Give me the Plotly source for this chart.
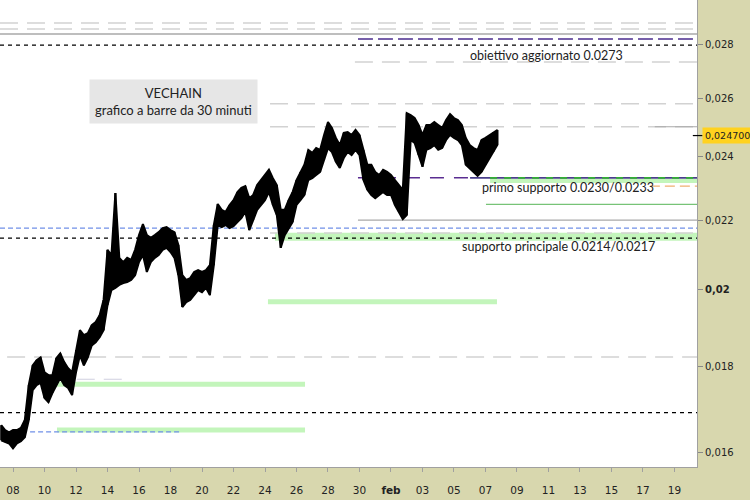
import numpy as np
import pandas as pd
import plotly.graph_objects as go

# ---- price data: 6-hour high/low ranges ----
bar_times = pd.date_range("2021-01-07 06:00", periods=127, freq="6h")
highs = [
    0.01661, 0.01650, 0.01645, 0.01650, 0.01650, 0.01655, 0.01673, 0.01755, 0.01803, 0.01816,
    0.01823, 0.01786, 0.01779, 0.01779, 0.01821, 0.01833, 0.01811, 0.01796, 0.01786, 0.01841,
    0.01892, 0.01879, 0.01884, 0.01905, 0.01913, 0.01931, 0.01972, 0.02112, 0.02097, 0.02283,
    0.02089, 0.02077, 0.02089, 0.02083, 0.02112, 0.02155, 0.02188, 0.02155, 0.02147, 0.02155,
    0.02164, 0.02176, 0.02179, 0.02170, 0.02164, 0.02126, 0.02040, 0.02027, 0.02032, 0.02049,
    0.02054, 0.02049, 0.02054, 0.02068, 0.02185, 0.02249, 0.02231, 0.02225, 0.02246, 0.02261,
    0.02286, 0.02299, 0.02305, 0.02267, 0.02277, 0.02308, 0.02324, 0.02340, 0.02357, 0.02330,
    0.02308, 0.02231, 0.02231, 0.02261, 0.02286, 0.02324, 0.02350, 0.02373, 0.02422, 0.02412,
    0.02428, 0.02422, 0.02472, 0.02516, 0.02496, 0.02462, 0.02438, 0.02479, 0.02482, 0.02472,
    0.02489, 0.02472, 0.02422, 0.02373, 0.02373, 0.02350, 0.02340, 0.02357, 0.02350, 0.02340,
    0.02324, 0.02308, 0.02293, 0.02547, 0.02540, 0.02530, 0.02506, 0.02472, 0.02506, 0.02506,
    0.02516, 0.02506, 0.02496, 0.02523, 0.02544, 0.02530, 0.02523, 0.02506, 0.02462, 0.02438,
    0.02428, 0.02422, 0.02455, 0.02462, 0.02472, 0.02482, 0.02489,
]
lows = [
    0.01627, 0.01623, 0.01620, 0.01609, 0.01620, 0.01625, 0.01634, 0.01673, 0.01743, 0.01755,
    0.01760, 0.01724, 0.01714, 0.01736, 0.01755, 0.01772, 0.01755, 0.01748, 0.01731, 0.01786,
    0.01828, 0.01803, 0.01823, 0.01853, 0.01861, 0.01874, 0.01892, 0.01958, 0.01999, 0.02005,
    0.02013, 0.02018, 0.02021, 0.02027, 0.02040, 0.02077, 0.02097, 0.02049, 0.02077, 0.02089,
    0.02097, 0.02112, 0.02118, 0.02106, 0.02089, 0.02040, 0.01953, 0.01966, 0.01972, 0.01985,
    0.01999, 0.01993, 0.02005, 0.01985, 0.02068, 0.02185, 0.02179, 0.02185, 0.02176, 0.02182,
    0.02194, 0.02206, 0.02225, 0.02170, 0.02200, 0.02231, 0.02246, 0.02261, 0.02286, 0.02246,
    0.02215, 0.02118, 0.02155, 0.02176, 0.02194, 0.02246, 0.02261, 0.02277, 0.02324, 0.02330,
    0.02340, 0.02350, 0.02389, 0.02428, 0.02415, 0.02383, 0.02363, 0.02395, 0.02415, 0.02405,
    0.02422, 0.02405, 0.02324, 0.02293, 0.02277, 0.02267, 0.02277, 0.02286, 0.02277, 0.02277,
    0.02246, 0.02225, 0.02203, 0.02215, 0.02455, 0.02445, 0.02405, 0.02367, 0.02422, 0.02428,
    0.02438, 0.02422, 0.02428, 0.02455, 0.02472, 0.02462, 0.02455, 0.02438, 0.02373, 0.02363,
    0.02350, 0.02337, 0.02350, 0.02373, 0.02395, 0.02415, 0.02438,
]
last_price = 0.0247

# ---- axis ticks ----
y_ticks = [0.016, 0.018, 0.020, 0.022, 0.024, 0.026, 0.028]
y_labels = ["0,016", "0,018", "<b>0,02</b>", "0,022", "0,024", "0,026", "0,028"]
x_ticks = ["2021-01-08", "2021-01-10", "2021-01-12", "2021-01-14", "2021-01-16",
           "2021-01-18", "2021-01-20", "2021-01-22", "2021-01-24", "2021-01-26",
           "2021-01-28", "2021-01-30", "2021-02-01", "2021-02-03", "2021-02-05",
           "2021-02-07", "2021-02-09", "2021-02-11", "2021-02-13", "2021-02-15",
           "2021-02-17", "2021-02-19"]
x_labels = ["08", "10", "12", "14", "16", "18", "20", "22", "24", "26", "28", "30",
            "<b>feb</b>", "03", "05", "07", "09", "11", "13", "15", "17", "19"]

X_START = "2021-01-07 04:10"
X_END = "2021-02-20 10:20"

# ---- levels ----
lvl_gray_top1 = 0.02882
lvl_gray_top2 = 0.02858
lvl_gray_solid_top = 0.02839
lvl_purple_top = 0.02819
lvl_black_top = 0.02796
lvl_target = 0.02732
lvl_gray_0258 = 0.0258
lvl_gray_0250 = 0.0250
lvl_s1_high = 0.02331
lvl_s1_band = 0.02321
lvl_s1_low = 0.02305
lvl_green_0225 = 0.02248
lvl_gray_0220 = 0.0220
lvl_blue_0217 = 0.02176
lvl_gray_0216 = 0.02161
lvl_main_band = 0.0215
lvl_black_0214 = 0.02146
lvl_green_0197 = 0.01967
lvl_gray_0182 = 0.01824
lvl_gray_0177 = 0.01769
lvl_green_0176 = 0.01757
lvl_black_0169 = 0.01690
lvl_green_0165 = 0.01650
lvl_blue_0165 = 0.01646

fig = go.Figure()


def hline(y, x0, x1, color, width=1.0, dash="solid"):
    fig.add_trace(go.Scatter(x=[x0, x1], y=[y, y], mode="lines",
                             line=dict(color=color, width=width, dash=dash),
                             hoverinfo="skip", showlegend=False))


GREEN_BAND = "#C3F5BB"
LGRAY = "#D2D2D2"
LONGDASH = "18px,9px"
SHORTDASH = "4px,4px"

# bands
hline(lvl_main_band, "2021-01-24 15:10", X_END, GREEN_BAND, 8)
hline(lvl_s1_band, "2021-02-07 07:00", X_END, GREEN_BAND, 4)
hline(lvl_green_0197, "2021-01-24 04:30", "2021-02-07 17:30", GREEN_BAND, 5)
hline(lvl_green_0176, "2021-01-10 19:00", "2021-01-26 13:00", GREEN_BAND, 5)
hline(lvl_green_0165, "2021-01-10 19:00", "2021-01-26 13:00", GREEN_BAND, 5)

# gray guide lines
hline(lvl_gray_top1, X_START, X_END, LGRAY, 1.5, LONGDASH)
hline(lvl_gray_top2, X_START, X_END, LGRAY, 1.5, LONGDASH)
hline(lvl_gray_solid_top, X_START, X_END, "#A9A9A9", 1.5)
hline(lvl_target, "2021-01-29 17:00", X_END, LGRAY, 1.5, LONGDASH)
hline(lvl_gray_0258, "2021-01-24 07:40", X_END, LGRAY, 1.5, LONGDASH)
hline(lvl_gray_0250, "2021-01-24 07:40", X_END, LGRAY, 1.5, LONGDASH)
hline(lvl_gray_0250, "2021-02-17 18:00", X_END, "#A9A9A9", 1.2)
hline(lvl_gray_0220, "2021-01-29 21:40", X_END, "#A9A9A9", 1.2)
hline(lvl_gray_0216, "2021-01-24 07:40", X_END, LGRAY, 1.5, LONGDASH)
hline(lvl_gray_0182, "2021-01-07 15:00", X_END, LGRAY, 1.5, LONGDASH)
hline(lvl_gray_0177, "2021-01-10 08:00", "2021-01-15 05:50", "#CFCFDF", 1.2, LONGDASH)

# coloured levels
hline(lvl_purple_top, "2021-01-29 21:40", X_END, "#4B2D8F", 1.5, "15px,5px")
hline(lvl_black_top, X_START, X_END, "#000000", 1.2, SHORTDASH)
hline(lvl_s1_high, "2021-01-29 21:40", "2021-02-06 00:30", "#5A2D91", 1.5, "14px,10px")
hline(lvl_s1_high, "2021-02-06 00:30", X_END, "#4A3F8C", 1.6)
hline(lvl_s1_high, "2021-02-07 07:00", X_END, "#33B033", 1.6, "7px,7px")
hline(lvl_s1_low, "2021-02-17 10:30", X_END, "#F0B070", 1.2, "10px,5px")
hline(lvl_green_0225, "2021-02-07 00:45", X_END, "#55B555", 1.0)
hline(lvl_blue_0217, X_START, X_END, "#7090E8", 1.2, "5px,3px")
hline(lvl_black_0214, X_START, X_END, "#000000", 1.2, SHORTDASH)
hline(lvl_black_0169, X_START, X_END, "#000000", 1.2, SHORTDASH)
hline(lvl_blue_0165, "2021-01-09 02:00", "2021-01-18 14:30", "#7090E8", 1.2, "5px,3px")

# price band: highs along the top edge, lows back along the bottom edge
times_list = list(bar_times)
fig.add_trace(go.Scatter(x=times_list + times_list[::-1], y=highs + lows[::-1],
                         mode="lines", fill="toself", fillcolor="#000000",
                         line=dict(color="#000000", width=2),
                         hoverinfo="skip", showlegend=False))
# individual ranges for texture
bx, by = [], []
for t, h, l in zip(bar_times, highs, lows):
    bx += [t, t, None]
    by += [l, h, None]
fig.add_trace(go.Scatter(x=bx, y=by, mode="lines", line=dict(color="#000000", width=2),
                         hoverinfo="skip", showlegend=False))

TXT = dict(family="Lato, Open Sans, sans-serif", size=12.5, color="#222222")
fig.add_annotation(x="2021-02-10 21:40", y=np.log10(0.02758), xref="x", yref="y",
                   text="obiettivo aggiornato 0.0273", showarrow=False, font=TXT)
fig.add_annotation(x="2021-02-12 06:30", y=np.log10(0.02299), xref="x", yref="y",
                   text="primo supporto 0.0230/0.0233", showarrow=False, font=TXT)
fig.add_annotation(x="2021-02-11 15:30", y=np.log10(0.02123), xref="x", yref="y",
                   text="supporto principale 0.0214/0.0217", showarrow=False, font=TXT)
fig.add_annotation(x=0.249, y=0.7837, xref="paper", yref="paper",
                   xanchor="center", yanchor="middle",
                   text="VECHAIN<br>grafico a barre da 30 minuti", showarrow=False,
                   bgcolor="#E6E6E6", borderpad=5,
                   font=dict(family="Lato, Open Sans, sans-serif", size=13, color="#222222"))

# last price marker on the axis
fig.add_shape(type="line", xref="paper", yref="y", x0=0.994, x1=1.008,
              y0=last_price, y1=last_price, line=dict(color="#000000", width=1.2))
fig.add_annotation(x=1, y=np.log10(last_price), xref="paper", yref="y",
                   text="0,024700", showarrow=False, xanchor="left", xshift=5,
                   bgcolor="#FFD21F", borderpad=2,
                   font=dict(family="DejaVu Sans", size=9.5, color="#222222"))

fig.update_layout(
    width=750, height=500,
    margin=dict(l=0, r=53, t=0, b=33),
    paper_bgcolor="#D8D7AE", plot_bgcolor="#FFFFFF",
    showlegend=False,
    xaxis=dict(type="date", range=[X_START, X_END], tickvals=x_ticks, ticktext=x_labels,
               showgrid=False, zeroline=False, showline=True, linecolor="#A0A0A0",
               ticks="outside", ticklen=4, tickcolor="#A0A0A0", ticklabelstandoff=9,
               tickfont=dict(family="DejaVu Sans", size=10.5, color="#222222")),
    yaxis=dict(type="log", side="right",
               range=[-1.80448, -1.52666], tickvals=y_ticks, ticktext=y_labels,
               showgrid=False, zeroline=False, showline=True, linecolor="#A0A0A0",
               ticks="outside", ticklen=5, tickcolor="#888888",
               tickfont=dict(family="DejaVu Sans", size=10, color="#222222")),
)

fig.write_html("out.html", config={"displayModeBar": False},
               post_script="document.body.style.margin='0px';document.body.style.padding='0px';")
